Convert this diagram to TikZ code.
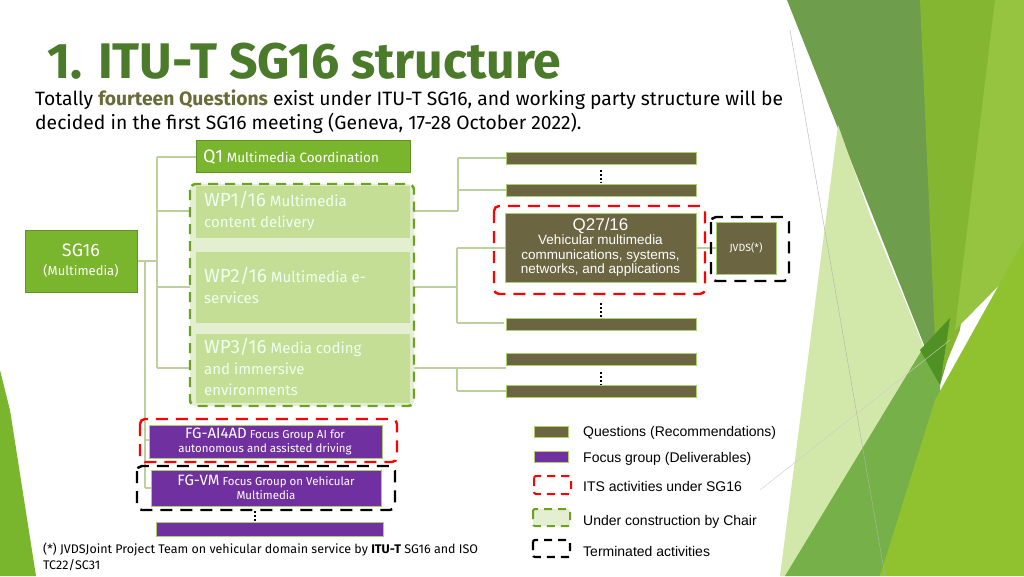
\documentclass[tikz,border=0pt]{standalone}
\usepackage{fontspec}
\setmainfont{Fira Sans}
\newfontfamily\arial{Liberation Sans}
\begin{document}
\begin{tikzpicture}[x=1pt,y=-1pt,
  lin/.style={draw=lgreen!85!black!60, line width=1.2pt},
  gbox/.style={fill=mgreen, draw=mgreen!80!black, line width=0.6pt},
  wpbox/.style={fill=wpgreen, draw=none},
  qbar/.style={fill=olive2, draw=lgreen, line width=0.8pt},
  pbox/.style={fill=purp, draw=lgreen, line width=0.8pt},
  rdash/.style={draw=red, line width=2.4pt, dash pattern=on 12pt off 8pt, rounded corners=5pt},
  kdash/.style={draw=black, line width=2.4pt, dash pattern=on 12pt off 8pt, rounded corners=5pt},
  gdash/.style={draw=dgreen, line width=2.4pt, dash pattern=on 10pt off 7pt, rounded corners=6pt},
  vdots/.style={line width=2.2pt, dash pattern=on 2.4pt off 1.6pt},
  wtxt/.style={text=white!94!green, align=left, inner sep=0pt, anchor=north west, font=\fontsize{15}{21}\selectfont},
]
\definecolor{mgreen}{HTML}{7AB52E}
\definecolor{lgreen}{HTML}{A9CF6E}
\definecolor{wpgreen}{HTML}{C4DE96}
\definecolor{ltfill}{HTML}{E3EFD0}
\definecolor{dgreen}{HTML}{6BA31E}
\definecolor{olive2}{HTML}{6B6542}
\definecolor{purp}{HTML}{7030A0}
\definecolor{titlec}{HTML}{4A7A2A}
\definecolor{boldc}{HTML}{6B6B3A}
\useasboundingbox (0,0) rectangle (1024,576);
\fill[white] (0,0) rectangle (1024,576);
% background decoration
\fill[color={rgb,255:red,110;green,158;blue,76}] (787,0) -- (930,0) -- (965,300) -- (940,385) -- cycle;
\fill[color={rgb,255:red,132;green,182;blue,50}] (920,0) -- (1000,0) -- (960,330) -- (937,385) -- cycle;
\fill[color={rgb,255:red,150;green,196;blue,64}] (995,0) -- (1024,0) -- (1024,260) -- (955,330) -- cycle;
\fill[color={rgb,255:red,210;green,232;blue,170}] (838,125) -- (870,215) -- (925,350) -- (790,576) -- (780,576) -- cycle;
\fill[color={rgb,255:red,118;green,176;blue,72}] (925,345) -- (940,385) -- (940,420) -- (880,576) -- (785,576) -- cycle;
\fill[color={rgb,255:red,143;green,194;blue,46}] (1024,240) -- (1024,576) -- (880,576) -- (935,400) -- cycle;
\fill[color={rgb,255:red,80;green,145;blue,35}] (920,350) -- (950,318) -- (940,385) -- cycle;
\draw[gray!60, line width=0.4pt] (790,30) -- (885,576);
\draw[gray!40, line width=0.4pt] (760,490) -- (950,340);
\fill[mgreen] (0,370) -- (10,410) -- (36,576) -- (0,576) -- cycle;
% title
\node[anchor=base west, inner sep=0pt, text=titlec, font=\fontsize{50}{54}\selectfont\bfseries] (title) at (47,78) {1. ITU-T SG16 structure};
\node[anchor=base west, inner sep=0pt, font=\fontsize{19.3}{22}\selectfont] (sub) at (35,105)
 {Totally {\color{boldc}\bfseries fourteen Questions} exist under ITU-T SG16, and working party structure will be};
\node[anchor=base west, inner sep=0pt, font=\fontsize{19.3}{22}\selectfont] (sub2) at (35,129)
 {decided in the first SG16 meeting (Geneva, 17-28 October 2022).};
% connectors left
\draw[lin] (137,261) -- (157,261);
\draw[lin] (157,157) -- (157,368);
\foreach \y in {157,211,287,368} \draw[lin] (157,\y) -- (196,\y);
\draw[lin] (145,261) -- (145,488);
\draw[lin] (145,440) -- (149,440);
\draw[lin] (145,488) -- (151,488);
% right connectors
\draw[lin] (410,211) -- (458,211); \draw[lin] (458,158) -- (458,211);
\draw[lin] (458,158) -- (506,158); \draw[lin] (458,190) -- (506,190);
\draw[lin] (410,287) -- (457,287); \draw[lin] (457,248) -- (457,323);
\draw[lin] (457,248) -- (505,248); \draw[lin] (457,323) -- (504,323);
\draw[lin] (410,368) -- (457,368); \draw[lin] (457,368) -- (457,391);
\draw[lin] (457,368) -- (506,368); \draw[lin] (457,391) -- (506,391);
\draw[lin] (696,248) -- (716,248);
% green dashed group
\draw[gdash, fill=ltfill] (190,184) rectangle (414,406);
\node[wpbox, minimum width=214pt, minimum height=52pt, anchor=north west] (wp1) at (196,186) {};
\node[wpbox, minimum width=214pt, minimum height=71pt, anchor=north west] (wp2) at (196,252) {};
\node[wpbox, minimum width=214pt, minimum height=69pt, anchor=north west] (wp3) at (196,334) {};
\node[wtxt] at (204,191) {{\fontsize{19}{21}\selectfont WP1/16} Multimedia\\content delivery};
\node[wtxt] at (204,267) {{\fontsize{19}{21}\selectfont WP2/16} Multimedia e-\\services};
\node[wtxt] at (204,338) {{\fontsize{19}{21}\selectfont WP3/16} Media coding\\and immersive\\environments};
% Q1 and SG16
\node[gbox, minimum width=214pt, minimum height=32pt, anchor=north west, inner sep=0pt] (q1) at (196,140) {};
\node[text=white, anchor=west, inner sep=0pt, font=\fontsize{13.5}{20}\selectfont] at (203,157) {{\fontsize{18}{20}\selectfont Q1} Multimedia Coordination};
\node[gbox, minimum width=112pt, minimum height=62pt, anchor=north west, inner sep=0pt] (sg16) at (25,230) {};
\node[text=white, align=center, inner sep=0pt, font=\fontsize{13}{17}\selectfont] at (81,261) {{\fontsize{18}{20}\selectfont SG16}\\[2pt](Multimedia)};
% question bars
\foreach \y/\n in {152/b1,184/b2,318/b3,353/b4,385/b5}
  \node[qbar, minimum width=190pt, minimum height=12pt, anchor=north west, inner sep=0pt] (\n) at (506,\y) {};
\draw[vdots] (601,170) -- (601,183);
\draw[vdots] (601,303) -- (601,317);
\draw[vdots] (601,372) -- (601,385);
\node[qbar, minimum width=191pt, minimum height=69pt, anchor=north west, inner sep=0pt] (q27) at (505,213) {};
\node[text=white, align=center, inner sep=0pt, font=\arial\fontsize{13.5}{14.5}\selectfont] at (600.5,247) {{\fontsize{17}{17}\selectfont Q27/16}\\Vehicular multimedia\\communications, systems,\\networks, and applications};
\draw[rdash] (494,206) rectangle (705,294);
\node[qbar, minimum width=60pt, minimum height=52pt, anchor=north west, inner sep=0pt] (jvds) at (716,222) {};
\node[text=white, font=\fontsize{10.5}{12}\selectfont] at (746,248) {JVDS(*)};
\draw[kdash] (711,217) rectangle (789,281);
% focus groups
\node[pbox, minimum width=233pt, minimum height=33pt, anchor=north west, inner sep=0pt] (fg1) at (149,425) {};
\node[text=white, align=center, inner sep=0pt, font=\fontsize{11.5}{14}\selectfont] at (265,441) {{\fontsize{15}{15}\selectfont FG-AI4AD} Focus Group AI for\\autonomous and assisted driving};
\draw[rdash] (140,419) rectangle (397,462);
\node[pbox, minimum width=230pt, minimum height=36pt, anchor=north west, inner sep=0pt] (fg2) at (151,470) {};
\node[text=white, align=center, inner sep=0pt, font=\fontsize{11.5}{14}\selectfont] at (266,487) {{\fontsize{15}{15}\selectfont FG-VM} Focus Group on Vehicular\\Multimedia};
\draw[kdash] (137,466) rectangle (395,510);
\draw[vdots] (255,511) -- (255,522);
\node[pbox, minimum width=227pt, minimum height=14pt, anchor=north west, inner sep=0pt] (fg3) at (156,522) {};
% footnote
\node[anchor=base west, inner sep=0pt, font=\fontsize{12.5}{15}\selectfont] (fn1) at (43,553) {(*) JVDSJoint Project Team on vehicular domain service by \textbf{ITU-T} SG16 and ISO};
\node[anchor=base west, inner sep=0pt, font=\fontsize{12.5}{15}\selectfont] (fn2) at (43,569) {TC22/SC31};
% legend
\node[qbar, minimum width=34pt, minimum height=11pt, anchor=north west, inner sep=0pt] (lq) at (534,426) {};
\node[pbox, minimum width=34pt, minimum height=11pt, anchor=north west, inner sep=0pt] (lp) at (534,451) {};
\draw[draw=red, line width=2pt, dash pattern=on 8pt off 6pt, rounded corners=2pt] (534,476) rectangle (571,494);
\draw[draw=dgreen, fill=ltfill, line width=2pt, dash pattern=on 8pt off 6pt, rounded corners=2pt] (533,509) rectangle (570,526);
\draw[draw=black, line width=2.2pt, dash pattern=on 8pt off 6pt, rounded corners=2pt] (533,540) rectangle (570,557);
\begin{scope}[every node/.style={anchor=base west, inner sep=0pt, font=\arial\fontsize{14}{16}\selectfont}]
\node (t1) at (583,436) {Questions (Recommendations)};
\node (t2) at (583,462) {Focus group (Deliverables)};
\node (t3) at (583,491) {ITS activities under SG16};
\node (t4) at (583,525) {Under construction by Chair};
\node (t5) at (583,556) {Terminated activities};
\end{scope}
\end{tikzpicture}
\end{document}
